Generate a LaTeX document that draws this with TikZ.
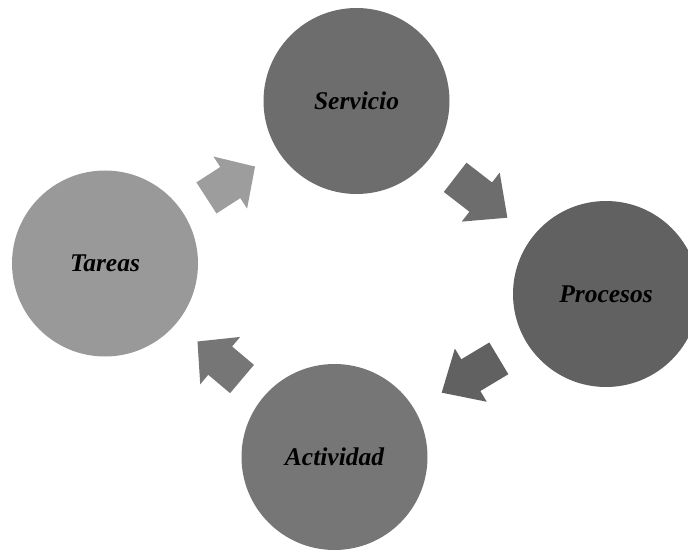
\documentclass[tikz,border=0pt]{standalone}
\usepackage{fontspec}
\setmainfont{Liberation Serif}
\usetikzlibrary{calc}

\definecolor{cTareas}{HTML}{999999}
\definecolor{cServicio}{HTML}{6D6D6D}
\definecolor{cProcesos}{HTML}{616161}
\definecolor{cActividad}{HTML}{767676}
\definecolor{aTareas}{HTML}{9D9D9D}

\tikzset{
  stage/.style={circle, inner sep=0pt, minimum size=186pt, draw=none,
    font=\fontsize{25.5}{30}\selectfont\bfseries\itshape, text=black},
}

\begin{document}
\begin{tikzpicture}[x=1pt, y=1pt]
  \useasboundingbox (0,0) rectangle (688,550);
  \clip (0,0) rectangle (688,550);

  % the four stages of the cycle
  \node[stage, fill=cServicio]  (S) at (356.5,449) {Servicio};
  \node[stage, fill=cProcesos]  (P) at (606,256)   {Procesos};
  \node[stage, fill=cActividad] (A) at (334.5,93)  {Actividad};
  \node[stage, fill=cTareas]    (T) at (105,286.5) {Tareas};

  % block arrows half way between neighbouring stages
  \foreach \a/\b/\col in {T/S/aTareas, S/P/cServicio, P/A/cProcesos, A/T/cActividad}{
    \path let \p1=($(\b.center)-(\a.center)$),
              \n1={atan2(\y1,\x1)}, \n2={veclen(\x1,\y1)} in
          \pgfextra{\xdef\arrang{\n1}\xdef\arrdist{\n2}};
    \pgfmathsetmacro\arrL{0.51*(\arrdist-186)}
    \pgfmathsetmacro\arrH{0.51*\arrL}
    \begin{scope}[shift={($(\a.center)!0.5!(\b.center)$)}, rotate=\arrang]
      \fill[\col] ({-\arrL/2},-18.5) -- ({\arrL/2-\arrH},-18.5)
        -- ({\arrL/2-\arrH},-31) -- ({\arrL/2},0) -- ({\arrL/2-\arrH},31)
        -- ({\arrL/2-\arrH},18.5) -- ({-\arrL/2},18.5) -- cycle;
    \end{scope}
  }
\end{tikzpicture}
\end{document}
